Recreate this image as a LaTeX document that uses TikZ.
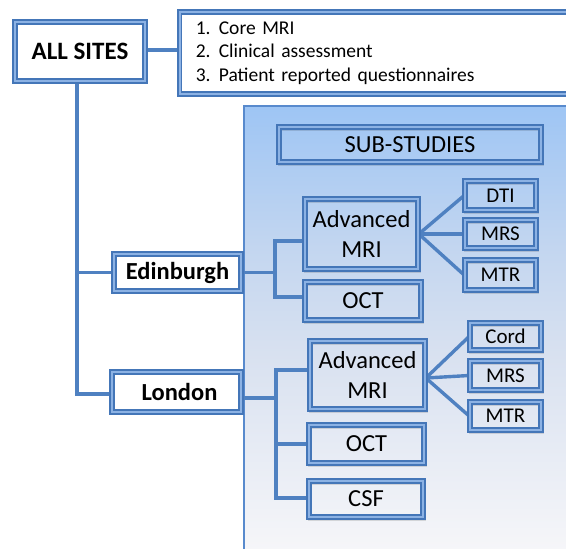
\documentclass[tikz,border=0pt]{standalone}
\usepackage{fontspec}
\setmainfont{Carlito}
\usetikzlibrary{shadows,backgrounds}

\definecolor{edge}{RGB}{68,118,184}
\definecolor{edgelite}{RGB}{140,178,228}
\definecolor{wirecol}{RGB}{79,129,193}
\definecolor{panelrim}{RGB}{88,138,205}

% vertical fade of the sub-studies backdrop (25bp = bottom edge, 75bp = top edge)
\pgfdeclareverticalshading{panelfade}{100bp}{%
  rgb(0bp)=(0.965,0.965,0.976);
  rgb(28bp)=(0.965,0.965,0.976);
  rgb(49bp)=(0.847,0.882,0.941);
  rgb(60bp)=(0.765,0.839,0.941);
  rgb(75bp)=(0.620,0.773,0.957);
  rgb(100bp)=(0.620,0.773,0.957)}

\begin{document}
\begin{tikzpicture}[x=1pt,y=-1pt,
  bevel/.style={rectangle, draw=edge, line width=1.7pt, double=edgelite,
    double distance=1.8pt, inner sep=0pt, align=center, text=black},
  whitebox/.style={bevel, fill=white,
    drop shadow={shadow xshift=1pt, shadow yshift=-2pt, opacity=0.2}},
  subbox/.style={bevel,
    general shadow={shadow xshift=1pt, shadow yshift=-2pt, draw=black,
      line width=4pt, opacity=0.12}},
  wire/.style={draw=wirecol, line width=3.4pt},
  bigbold/.style={font=\bfseries\fontsize{24.5}{29}\selectfont},
  medium/.style={font=\fontsize{24.5}{29.5}\selectfont},
  small/.style={font=\fontsize{21}{25}\selectfont}
]
\useasboundingbox (0,0) rectangle (566,549);
\clip (0,0) rectangle (566,549);

% shaded backdrop for the sub-studies
\begin{scope}[on background layer]
\path[shading=panelfade, draw=panelrim, line width=1.6pt] (244,106) rectangle (590,580);
\end{scope}

% nodes
\node[whitebox, minimum width=130pt, minimum height=59pt,
      font=\bfseries\fontsize{25}{30}\selectfont] (allsites) at (80,51.5) {ALL SITES};
\node[whitebox, anchor=west, minimum height=82pt, text width=364pt,
      inner xsep=16pt, align=left, font=\fontsize{19.5}{23.5}\selectfont]
      (tasks) at (179,53)
      {\makebox[23pt][l]{1.}Core MRI\\
       \makebox[23pt][l]{2.}Clinical assessment\\
       \makebox[23pt][l]{3.}Patient reported questionnaires};

\node[whitebox, bigbold, minimum width=127pt, minimum height=37pt]
      (edinburgh) at (177.5,272.5) {Edinburgh};
\node[whitebox, bigbold, minimum width=129pt, minimum height=40pt]
      (london) at (176.5,392) {\hspace*{6pt}London};

\node[subbox, medium, minimum width=262pt, minimum height=35pt]
      (substudies) at (410,144.5) {SUB-STUDIES};

\node[subbox, medium, minimum width=113pt, minimum height=70pt]
      (advE) at (361.5,234) {Advanced\\MRI};
\node[subbox, medium, minimum width=116pt, minimum height=38pt]
      (octE) at (363,301) {OCT};
\node[subbox, small, minimum width=71pt, minimum height=29pt]
      (dti) at (500.5,195.5) {DTI};
\node[subbox, small, minimum width=71pt, minimum height=28pt]
      (mrsE) at (500.5,234) {MRS};
\node[subbox, small, minimum width=71pt, minimum height=30pt]
      (mtrE) at (500.5,275) {MTR};

\node[subbox, medium, minimum width=115pt, minimum height=68pt]
      (advL) at (367.5,375) {Advanced\\MRI};
\node[subbox, medium, minimum width=115pt, minimum height=38pt]
      (octL) at (366.5,444) {OCT};
\node[subbox, medium, minimum width=114pt, minimum height=36pt]
      (csf) at (366,499) {CSF};
\node[subbox, small, minimum width=71pt, minimum height=27pt]
      (cord) at (505.5,336.5) {Cord};
\node[subbox, small, minimum width=71pt, minimum height=29pt]
      (mrsL) at (505.5,375.5) {MRS};
\node[subbox, small, minimum width=71pt, minimum height=28pt]
      (mtrL) at (505.5,416) {MTR};

% connectors, kept beneath the boxes
\begin{scope}[on background layer]
\draw[wire] ([yshift=1.5pt]allsites.east) -- ([yshift=1.5pt]allsites.east -| tasks.west);

\coordinate (trunk) at ([xshift=-3pt]allsites.south);
\draw[wire] (trunk) |- (edinburgh.west);
\draw[wire] (trunk) |- ([yshift=-2pt]london.west);

\coordinate (efork) at (275,272.5);
\draw[wire] (edinburgh.east) -- (efork);
\draw[wire] ([yshift=-7pt]advE.west) -| (efork) |- ([yshift=4pt]octE.west);

\coordinate (lfork) at (276,398);
\draw[wire] ([yshift=-6pt]london.east) -- (lfork);
\draw[wire] ([yshift=5pt]advL.west) -| (lfork) |- ([yshift=1pt]csf.west);
\draw[wire] (lfork |- octL.west) -- (octL.west);

\foreach \t in {dti,mrsE,mtrE}
  \draw[wire] (advE.east) -- (\t.west);
\foreach \t in {cord,mrsL,mtrL}
  \draw[wire] ([yshift=-3pt]advL.east) -- (\t.west);
\end{scope}
\end{tikzpicture}
\end{document}
